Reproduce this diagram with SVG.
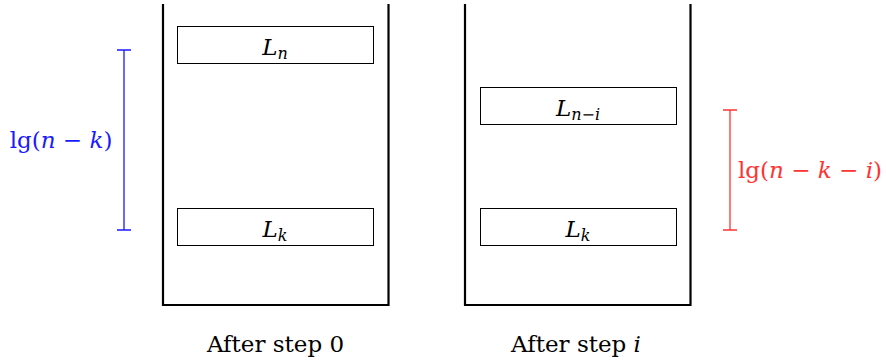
<svg xmlns="http://www.w3.org/2000/svg" width="886" height="360" viewBox="0 0 886 360">
<style>
.cont{fill:none;stroke:#000;stroke-width:2.2}
.box{fill:#fff;stroke:#000;stroke-width:1}
text{font-family:'DejaVu Serif','Liberation Serif',serif;font-size:23px}
.m{font-style:italic}
.sub{font-size:16px;font-style:italic}
.blue{stroke:#1a1aff;stroke-width:1.3;fill:none}
.red{stroke:#ff3333;stroke-width:1.3;fill:none}
</style>
<rect width="886" height="360" fill="#fff"/>
<g id="container0">
<path class="cont" d="M163,4 V305 H388.5 V4"/>
</g>
<g id="container1">
<path class="cont" d="M465,4 V305 H690.5 V4"/>
</g>
<g id="Ln">
<rect class="box" x="177.5" y="26.5" width="196" height="37"/>
<text x="275" y="55" text-anchor="middle"><tspan class="m">L</tspan><tspan class="sub" dy="4">n</tspan></text>
</g>
<g id="Lk0">
<rect class="box" x="177.5" y="208.5" width="196" height="37"/>
<text x="275" y="237" text-anchor="middle"><tspan class="m">L</tspan><tspan class="sub" dy="4">k</tspan></text>
</g>
<g id="Lni">
<rect class="box" x="480.5" y="87.5" width="196" height="37"/>
<text x="578" y="116" text-anchor="middle"><tspan class="m">L</tspan><tspan class="sub" dy="4"><tspan>n</tspan><tspan font-style="normal">−</tspan><tspan>i</tspan></tspan></text>
</g>
<g id="Lk1">
<rect class="box" x="480.5" y="208.5" width="196" height="37"/>
<text x="578" y="237" text-anchor="middle"><tspan class="m">L</tspan><tspan class="sub" dy="4">k</tspan></text>
</g>
<g id="connectors">
<path class="blue" d="M124,50 V230 M117,50 H131 M117,230 H131"/>
<path class="red" d="M730,110 V230 M723,110 H737 M723,230 H737"/>
</g>
<g id="label-blue">
<text x="61" y="148" text-anchor="middle" fill="#1a1aff">lg(<tspan class="m">n</tspan> − <tspan class="m">k</tspan>)</text>
</g>
<g id="label-red">
<text x="810" y="178" text-anchor="middle" fill="#ff3333">lg(<tspan class="m">n</tspan> − <tspan class="m">k</tspan> − <tspan class="m">i</tspan>)</text>
</g>
<g id="cap0">
<text x="275.5" y="352" text-anchor="middle">After step 0</text>
</g>
<g id="cap1">
<text x="576" y="352" text-anchor="middle">After step <tspan class="m">i</tspan></text>
</g>
</svg>
